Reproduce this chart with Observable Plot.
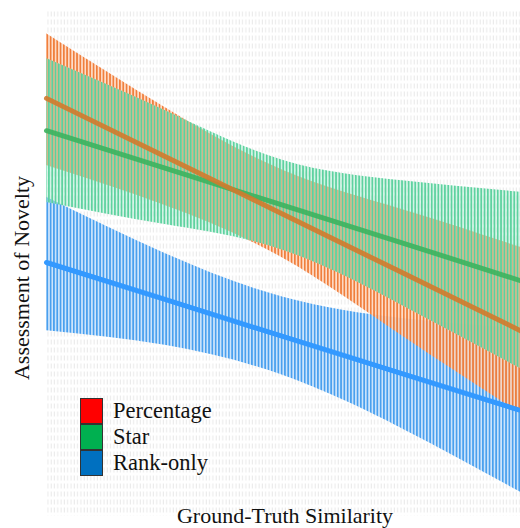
<!DOCTYPE html>
<html>
<head>
<meta charset="utf-8">
<script src="https://cdn.jsdelivr.net/npm/d3@7"></script>
<script src="https://cdn.jsdelivr.net/npm/@observablehq/plot@0.6"></script>
<style>
  html, body { margin: 0; padding: 0; background: #fff; }
  #wrap { position: relative; width: 520px; height: 528px; overflow: hidden; font-family: "Liberation Serif", "DejaVu Serif", serif; color: #111; }
  #legend { position: absolute; left: 80px; top: 398px; font-size: 22.5px; }
  .row { display: flex; align-items: center; height: 26px; line-height: 26px; }
  .sw { width: 23px; height: 26px; border: 1px solid #333; box-sizing: border-box; margin-right: 10px; }
  #ylab { position: absolute; left: 22px; top: 278px; transform: translate(-50%, -50%) rotate(-90deg); white-space: nowrap; font-size: 22px; line-height: 22px; }
  #xlab { position: absolute; left: 285px; top: 504px; transform: translateX(-50%); white-space: nowrap; font-size: 22px; line-height: 24px; }
</style>
</head>
<body>
<div id="wrap"><div id="legend"></div><div id="ylab"></div><div id="xlab"></div></div>
<script>
// Labels
const xLabel = "Ground-Truth Similarity";
const yLabel = "Assessment of Novelty";

// Series names and legend colours
const seriesNames = ["Percentage", "Star", "Rank-only"];
const legendColors = ["#ff0000", "#00b050", "#0070c0"];

// Ground-truth similarity sample positions (normalised)
const xs = [0, 0.25, 0.5, 0.75, 1];

// Fitted lines and confidence bands (assessment of novelty, arbitrary units)
const percentageFit = [82.6, 71.1, 59.6, 48.1, 36.6];
const percentageUpper = [95.4, 80.8, 68.3, 60.6, 53.1];
const percentageLower = [69.3, 61.4, 50.9, 35.6, 20.2];

const starFit = [76.2, 68.8, 61.4, 54.0, 46.5];
const starUpper = [90.5, 80.2, 70.3, 66.3, 64.0];
const starLower = [62.0, 57.6, 52.5, 41.6, 29.1];

const rankFit = [50.1, 42.8, 35.4, 28.1, 20.8];
const rankUpper = [63.0, 51.9, 43.2, 39.0, 37.0];
const rankLower = [36.6, 33.7, 27.7, 17.2, 4.6];

const rows = (fit, lo, hi, name) => xs.map((x, i) => ({x, fit: fit[i], lo: lo[i], hi: hi[i], name}));
const pct = rows(percentageFit, percentageLower, percentageUpper, seriesNames[0]);
const star = rows(starFit, starLower, starUpper, seriesNames[1]);
const rank = rows(rankFit, rankLower, rankUpper, seriesNames[2]);

const chart = Plot.plot({
  width: 520,
  height: 528,
  marginLeft: 46,
  marginRight: 0,
  marginTop: 10,
  marginBottom: 13,
  x: {domain: [0, 1], axis: null},
  y: {domain: [0, 100], axis: null},
  marks: [
    Plot.frame({fill: "url(#bgGrid)", stroke: "none"}),
    Plot.areaY(rank, {x: "x", y1: "lo", y2: "hi", fill: "url(#hatchBlue)", curve: "natural"}),
    Plot.areaY(pct, {x: "x", y1: "lo", y2: "hi", fill: "url(#hatchOrange)", curve: "natural"}),
    Plot.areaY(star, {x: "x", y1: "lo", y2: "hi", fill: "url(#hatchGreen)", curve: "natural"}),
    Plot.line(rank, {x: "x", y: "fit", stroke: "#3399ff", strokeWidth: 5}),
    Plot.line(star, {x: "x", y: "fit", stroke: "#3cb35e", strokeWidth: 5, strokeOpacity: 0.9}),
    Plot.line(pct, {x: "x", y: "fit", stroke: "#d27a2c", strokeWidth: 5, strokeOpacity: 0.9})
  ]
});

// Patterns (styling only)
const svg = d3.select(chart);
const defs = svg.insert("defs", ":first-child");
function hatch(id, light, dark, offset, lightOp, darkOp) {
  const p = defs.append("pattern").attr("id", id).attr("patternUnits", "userSpaceOnUse")
    .attr("width", 3.3).attr("height", 10).attr("x", offset);
  p.append("rect").attr("width", 3.3).attr("height", 10).attr("fill", light).attr("fill-opacity", lightOp);
  p.append("rect").attr("x", 0).attr("width", 1.7).attr("height", 10).attr("fill", dark).attr("fill-opacity", darkOp);
}
hatch("hatchBlue", "#cfe6fc", "#4aa0ee", 0.3, 1, 1);
hatch("hatchOrange", "#ffd3b8", "#ef7a36", 0.3, 0.75, 0.95);
hatch("hatchGreen", "#b5f0d6", "#48cc93", 1.9, 0.5, 0.85);
const bg = defs.append("pattern").attr("id", "bgGrid").attr("patternUnits", "userSpaceOnUse")
  .attr("width", 3.3).attr("height", 8).attr("x", 46.3).attr("y", 10);
bg.append("rect").attr("x", 0.6).attr("y", 1).attr("width", 1).attr("height", 5).attr("fill", "#e9e9e9");

document.getElementById("wrap").prepend(chart);

document.getElementById("xlab").textContent = xLabel;
document.getElementById("ylab").textContent = yLabel;

// Legend
const legend = document.getElementById("legend");
seriesNames.forEach((n, i) => {
  const r = document.createElement("div"); r.className = "row";
  const s = document.createElement("div"); s.className = "sw"; s.style.background = legendColors[i];
  const t = document.createElement("span"); t.textContent = n;
  r.appendChild(s); r.appendChild(t); legend.appendChild(r);
});
</script>
</body>
</html>
